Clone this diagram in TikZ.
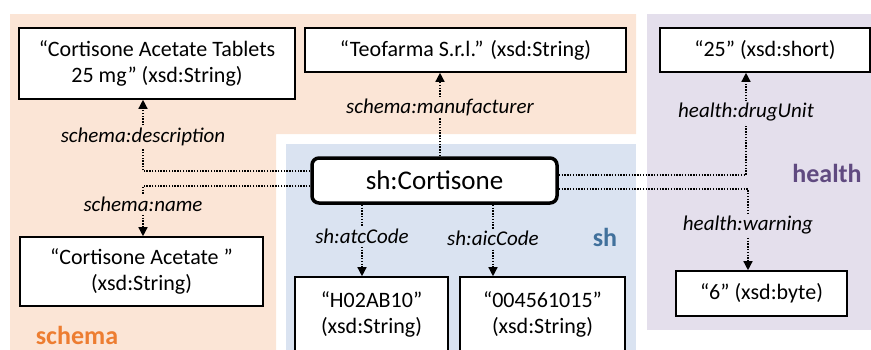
\documentclass[tikz,border=0pt]{standalone}
\usepackage{fontspec}
\setmainfont{Carlito}
\usepackage{tikz}
\usetikzlibrary{arrows.meta}
\definecolor{SchemaBg}{RGB}{251,229,214}
\definecolor{ShBg}{RGB}{218,227,241}
\definecolor{HealthBg}{RGB}{228,223,236}
\definecolor{SchemaInk}{RGB}{237,125,49}
\definecolor{ShInk}{RGB}{65,113,156}
\definecolor{HealthInk}{RGB}{96,74,128}

\begin{document}
\begin{tikzpicture}[x=1pt,y=-1pt,
  lit/.style={draw,line width=1.6pt,fill=white,align=center,inner sep=0pt,font=\fontsize{22}{26}\selectfont},
  res/.style={draw,line width=3.5pt,rounded corners=7pt,fill=white,inner sep=0pt,font=\fontsize{27}{32}\selectfont},
  prop/.style={line width=1.4pt,dash pattern=on 1.4pt off 1.4pt,-{Triangle[length=9pt,width=9pt]}},
  plabel/.style={inner sep=2pt,font=\fontsize{21}{25}\selectfont\itshape},
  ns/.style={font=\fontsize{26}{30}\selectfont\bfseries}]
\useasboundingbox (0,0) rectangle (871,349);
\clip (0,0) rectangle (871,349);
% vocabulary regions
\fill[SchemaBg] (10,14) -- (636,14) -- (636,134) -- (276,134) -- (276,360) -- (10,360) -- cycle;
\fill[ShBg] (286,144) rectangle (636,360);
\fill[HealthBg] (647,14) rectangle (871,330);
\node[ns,text=SchemaInk] (schemaNs) at (77,335) {schema};
\node[ns,text=ShInk] (shNs) at (605,237) {sh};
\node[ns,text=HealthInk] (healthNs) at (827,173) {health};
% resource and literals
\node[res,minimum width=245,minimum height=45] (cort) at (434.5,180.5) {sh:Cortisone};
\node[lit,minimum width=276,minimum height=71] (desc) at (157,63.5) {“Cortisone Acetate Tablets\\25 mg” (xsd:String)};
\node[lit,minimum width=321,minimum height=44] (maker) at (465.5,50) {“Teofarma S.r.l.” (xsd:String)};
\node[lit,minimum width=210,minimum height=44] (unit) at (765,50) {“25” (xsd:short)};
\node[lit,minimum width=243,minimum height=69] (name) at (141.5,271.5) {“Cortisone Acetate ”\\(xsd:String)};
\node[lit,minimum width=153,minimum height=74] (atc) at (371.5,314) {“H02AB10”\\(xsd:String)};
\node[lit,minimum width=165,minimum height=74] (aic) at (542.5,314) {“004561015”\\(xsd:String)};
\node[lit,minimum width=171,minimum height=45] (warn) at (761.5,293.5) {“6” (xsd:byte)};
% schema properties
\draw[prop] ([yshift=9.5pt]cort.west) -| node[plabel,fill=SchemaBg,pos=0.736] (descLbl) {schema:description} ([xshift=-14pt]desc.south);
\draw[prop] ([yshift=-5.5pt]cort.west) -| node[plabel,fill=SchemaBg,pos=0.686] (nameLbl) {schema:name} ([xshift=1.5pt]name.north);
\draw[prop] ([xshift=-25.5pt]maker.south |- cort.north) -- node[plabel,fill=SchemaBg,pos=0.58] (makerLbl) {schema:manufacturer} ([xshift=-25.5pt]maker.south);
% sh properties
\draw[prop] ([xshift=-9.5pt]atc.north |- cort.south) -- node[plabel,fill=ShBg,pos=0.44] (atcLbl) {sh:atcCode} ([xshift=-9.5pt]atc.north);
\draw[prop] ([xshift=-49.5pt]aic.north |- cort.south) -- node[plabel,fill=ShBg,pos=0.47] (aicLbl) {sh:aicCode} ([xshift=-49.5pt]aic.north);
% health properties
\draw[prop] ([yshift=5.5pt]cort.east) -| node[plabel,fill=HealthBg,pos=0.806] (unitLbl) {health:drugUnit} ([xshift=-19pt]unit.south);
\draw[prop] ([yshift=-8.5pt]cort.east) -| node[plabel,fill=HealthBg,pos=0.72] (warnLbl) {health:warning} ([xshift=-13.5pt]warn.north);
\end{tikzpicture}
\end{document}
